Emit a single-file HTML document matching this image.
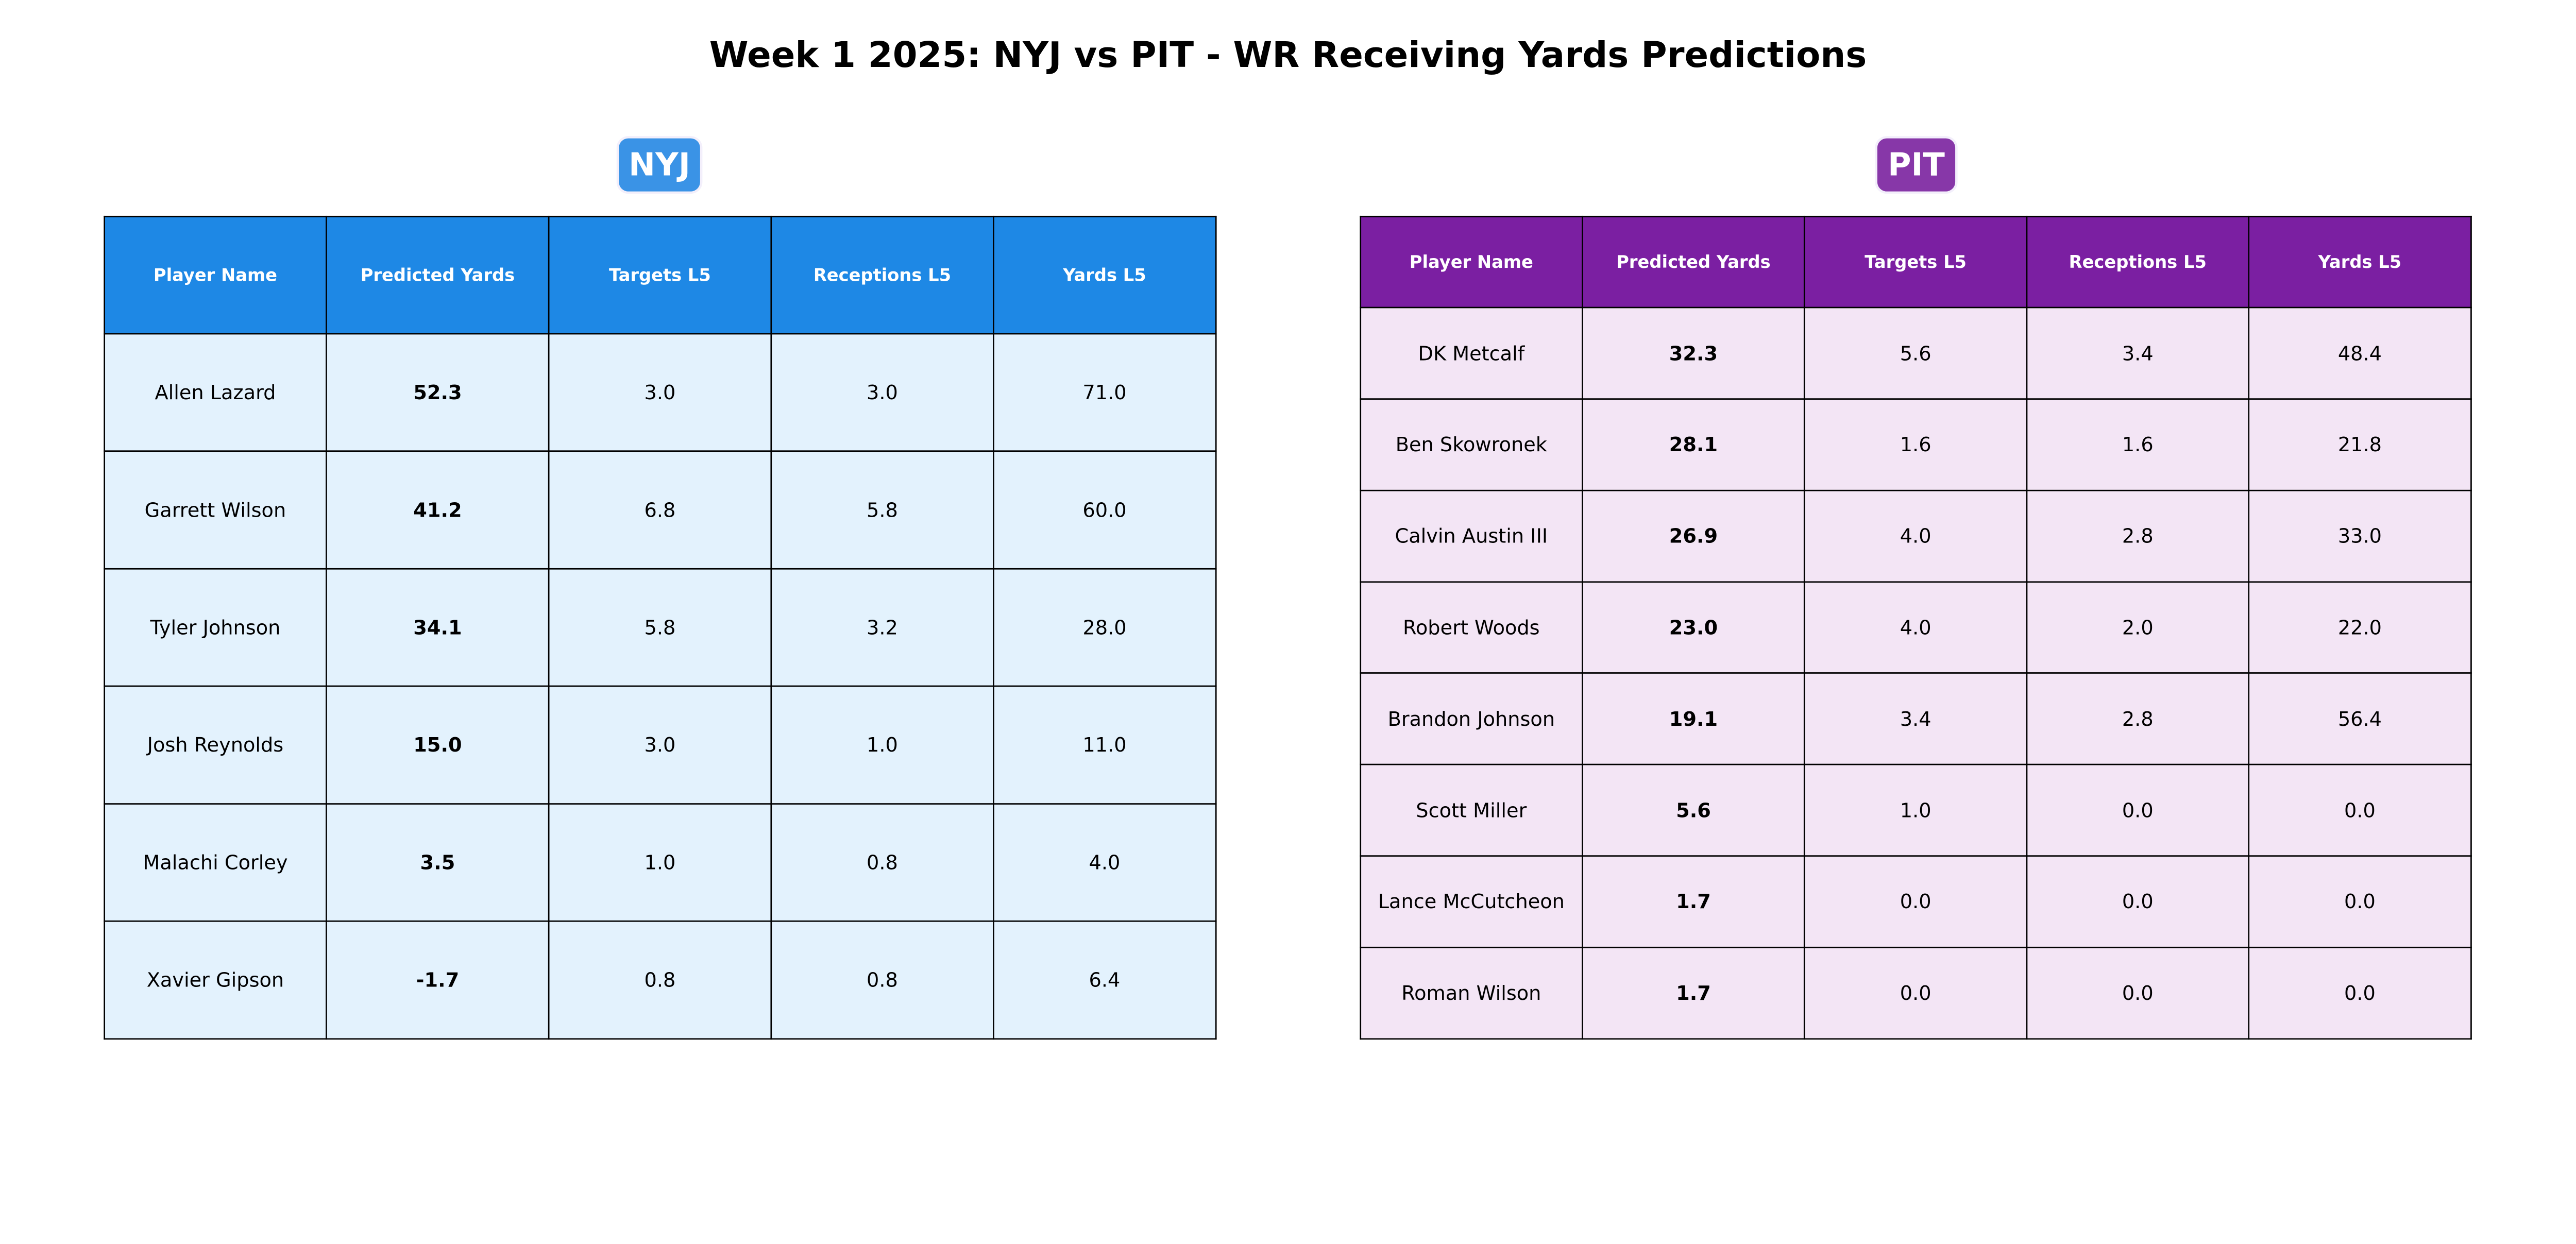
<!DOCTYPE html>
<html><head><meta charset="utf-8"><style>
html,body{margin:0;padding:0;background:#fff;overflow:hidden;}
#root{position:absolute;left:0;top:0;width:5490px;height:2415px;overflow:hidden;font-family:"DejaVu Sans","Liberation Sans",sans-serif;transform-origin:0 0;background:#fff;}
.title{position:absolute;left:0;width:5490px;top:72px;text-align:center;font-weight:bold;font-size:75.5px;line-height:90px;color:#000;white-space:nowrap;}
.badge{position:absolute;border-radius:20px;color:#fff;font-weight:bold;font-size:68px;display:flex;align-items:center;justify-content:center;box-shadow:0 0 0 5px rgba(240,235,250,0.8);}
.cell{position:absolute;box-sizing:border-box;display:flex;align-items:center;justify-content:center;text-align:center;font-size:42px;color:#000;white-space:nowrap;}
.hdr{color:#fff;font-weight:bold;font-size:37px;}
.b{font-weight:bold;}
.ln{position:absolute;background:#000;}
</style></head><body>
<div id="root">
<div class="title">Week 1 2025: NYJ vs PIT - WR Receiving Yards Predictions</div>
</div>
<script>
const columns = ["Player Name","Predicted Yards","Targets L5","Receptions L5","Yards L5"];
const nyjPlayers = ["Allen Lazard","Garrett Wilson","Tyler Johnson","Josh Reynolds","Malachi Corley","Xavier Gipson"];
const nyjPred = ["52.3","41.2","34.1","15.0","3.5","-1.7"];
const nyjTargets = ["3.0","6.8","5.8","3.0","1.0","0.8"];
const nyjRec = ["3.0","5.8","3.2","1.0","0.8","0.8"];
const nyjYards = ["71.0","60.0","28.0","11.0","4.0","6.4"];
const pitPlayers = ["DK Metcalf","Ben Skowronek","Calvin Austin III","Robert Woods","Brandon Johnson","Scott Miller","Lance McCutcheon","Roman Wilson"];
const pitPred = ["32.3","28.1","26.9","23.0","19.1","5.6","1.7","1.7"];
const pitTargets = ["5.6","1.6","4.0","4.0","3.4","1.0","0.0","0.0"];
const pitRec = ["3.4","1.6","2.8","2.0","2.8","0.0","0.0","0.0"];
const pitYards = ["48.4","21.8","33.0","22.0","56.4","0.0","0.0","0.0"];

const root = document.getElementById('root');
function fit(){
  const s = Math.min(window.innerWidth / 5490, window.innerHeight / 2415);
  root.style.transform = 'scale(' + s + ')';
}
fit();
window.addEventListener('resize', fit);

function table(team, left, right, top, bottom, players, pred, tg, rc, yd, hdrColor, bodyColor, badgeColor, badgeBox){
  const badge = document.createElement('div');
  badge.className = 'badge';
  
  
  badge.textContent = team;
  badge.style.cssText = `left:${badgeBox[0]}px;top:${badgeBox[1]}px;width:${badgeBox[2]}px;height:${badgeBox[3]}px;background:${badgeColor};`;
  root.appendChild(badge);
  const nRows = players.length + 1;
  const rh = (bottom - top) / nRows;
  const cw = (right - left) / columns.length;
  const rows = [columns].concat(players.map((p,i)=>[p,pred[i],tg[i],rc[i],yd[i]]));
  rows.forEach((r, ri) => {
    r.forEach((v, ci) => {
      const c = document.createElement('div');
      c.className = 'cell' + (ri === 0 ? ' hdr' : (ci === 1 ? ' b' : ''));
      
      
      c.style.left = (left + ci*cw) + 'px';
      c.style.top = (top + ri*rh) + 'px';
      c.style.width = cw + 'px';
      c.style.height = rh + 'px';
      c.style.background = ri === 0 ? hdrColor : bodyColor;
      c.textContent = v;
      root.appendChild(c);
    });
  });
  for (let i = 0; i <= nRows; i++) {
    const l = document.createElement('div');
    l.className = 'ln';
    
    
    l.style.cssText = `left:${left-1.5}px;top:${top + i*rh - 1.5}px;width:${right-left+3}px;height:3px;`;
    root.appendChild(l);
  }
  for (let j = 0; j <= columns.length; j++) {
    const l = document.createElement('div');
    l.className = 'ln';
    
    
    l.style.cssText = `left:${left + j*cw - 1.5}px;top:${top-1.5}px;width:3px;height:${bottom-top+3}px;`;
    root.appendChild(l);
  }
}
table('NYJ', 222, 2591, 461, 2214, nyjPlayers, nyjPred, nyjTargets, nyjRec, nyjYards, '#1e88e5', '#e3f2fd', '#3a93e6', [1319, 295, 173, 113]);
table('PIT', 2899, 5266, 461, 2214, pitPlayers, pitPred, pitTargets, pitRec, pitYards, '#7b1fa2', '#f3e5f5', '#8737a8', [4001, 295, 166, 113]);
</script>
</body></html>
